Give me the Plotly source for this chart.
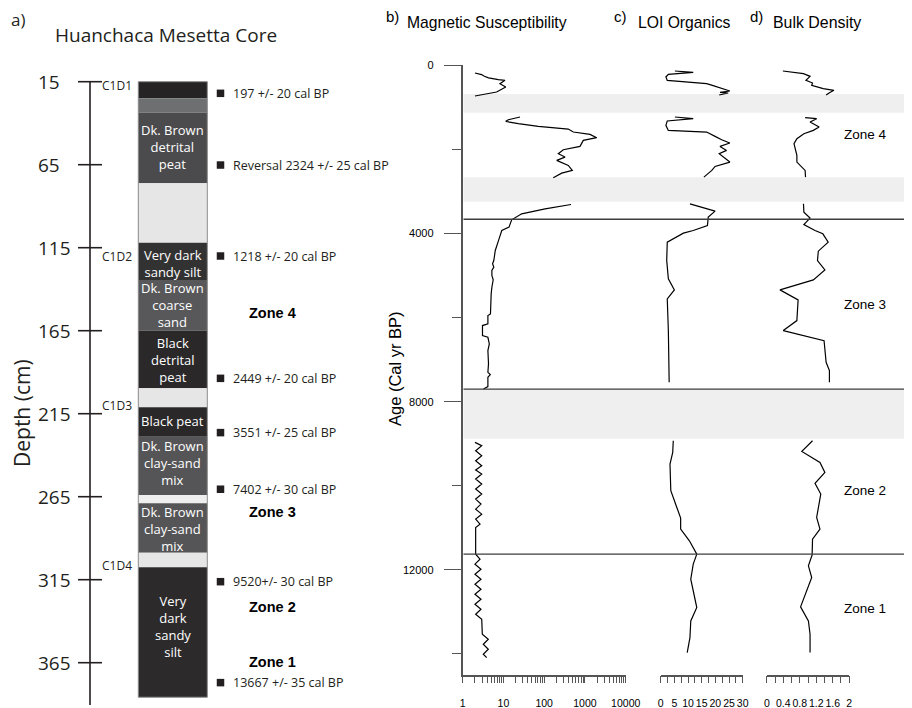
import plotly.graph_objects as go

W, H = 912, 708
OFF = 8  # the page body margin shifts the figure by 8 px; positions below are screen pixels

# ---------------- Panel a: core stratigraphy (depth, cm) ----------------
layer_top = [15, 25, 33.7, 76.2, 112, 134.5, 165, 199.7, 211.1, 228.9, 264, 269, 298.7, 307.5]
layer_bot = [25, 33.7, 76.2, 112, 134.5, 165, 199.7, 211.1, 228.9, 264, 269, 298.7, 307.5, 385.8]
layer_color = ["#262324", "#6e6f71", "#4b4b4d", "#e6e6e6", "#333233", "#58585a", "#2a2829",
               "#e6e6e6", "#2a2829", "#555557", "#eeeeee", "#555557", "#e6e6e6", "#2c2a2b"]
layer_label = ["Dk. Brown<br>detrital<br>peat", "Very dark<br>sandy silt", "Dk. Brown<br>coarse<br>sand",
               "Black<br>detrital<br>peat", "Black peat", "Dk. Brown<br>clay-sand<br>mix",
               "Dk. Brown<br>clay-sand<br>mix", "Very<br>dark<br>sandy<br>silt"]
layer_label_depth = [54.3, 124.6, 149.5, 182.7, 219.2, 244.9, 284.6, 343.1]

depth_ticks = [15, 65, 115, 165, 215, 265, 315, 365]
section_names = ["C1D1", "C1D2", "C1D3", "C1D4"]
section_depth = [17, 120.4, 209.8, 306.2]

date_depth = [22, 65.2, 120, 193.7, 226.4, 260.5, 316.2, 377]
date_text = ["197 +/- 20 cal BP", "Reversal 2324 +/- 25 cal BP", "1218 +/- 20 cal BP",
             "2449 +/- 20 cal BP", "3551 +/- 25 cal BP", "7402 +/- 30 cal BP",
             "9520+/- 30 cal BP", "13667 +/- 35 cal BP"]

core_zone_names = ["Zone 4", "Zone 3", "Zone 2", "Zone 1"]
core_zone_depth = [154.5, 274.4, 331.3, 364.4]

# ---------------- Panels b-d: proxies vs age (cal yr BP) ----------------
N = None
mag_age = [183, 220, 262, 300, 341, 357, 437, 516, 635, 675, 730, N,
           1230, 1294, 1333, 1389, 1452, 1516, 1587, 1611, 1643, 1722, 1786, 1929, 2008, 2103, 2183,
           2262, 2381, 2500, 2564, 2674, N,
           3310, 3413, 3532, 3675, 3849, 3929, 4127, 4246, 4405, 4643, 4722, 4800, 4881, 5000, 5100,
           5278, 5437, 5913, 5952, 6151, 6190, 6429, 6468, 6627, 6786, 7100, 7302, 7357, 7421, 7643, 7698, N,
           8968, 9048, 9167, 9286, 9405, 9524, 9627, 9722, 9841, 9960, 10079, 10198, 10317, 10437,
           10556, 10675, 10794, 10913, 10992, 11627, 11746, 11865, 11984, 12103, 12222, 12341, 12460,
           12579, 12698, 12817, 12936, 13056, 13175, 13532, 13651, 13770, 13889, 14008, 14087]
mag_val = [2.0, 2.9, 3.4, 4.3, 7.5, 10.9, 8.2, 11.4, 6.8, 4.25, 2.0, N,
           25.5, 13.2, 11.4, 23.1, 71.7, 390, 518, 832, 1330, 1940, 911, 756, 294, 222, 324,
           203, 390, 489, 269, 167, N,
           455, 105, 28, 15.9, 13.7, 9.1, 7.8, 7.0, 6.3, 5.8, 5.4, 5.8, 5.2, 5.2, 5.6,
           5.2, 5.0, 4.8, 4.15, 4.15, 3.06, 3.06, 4.15, 4.5, 4.15, 4.3, 4.15, 4.76, 4.15, 4.15, 3.24, N,
           2.0, 2.93, 2.08, 2.93, 2.08, 2.93, 2.08, 2.93, 2.08, 2.93, 2.08, 2.93, 2.08, 2.81,
           2.08, 2.93, 2.08, 2.66, 2.08, 2.08, 2.66, 2.0, 2.81, 2.0, 2.81, 2.0, 2.81,
           2.0, 2.81, 2.0, 2.81, 2.08, 2.93, 3.03, 4.25, 3.2, 4.25, 3.2, 3.88]

loi_age = [135, 167, 214, 278, 357, 389, 437, 484, 532, 579, 611, 643, 659, 706, N,
           1230, 1270, 1325, 1429, 1548, 1564, 1587, 1690, 1770, 1849, 1929, 2024, 2103, 2302, 2405, 2500, 2659, N,
           3294, 3468, 3611, 3810, 3929, 3992, 4206, 4643, 5079, 5341, 5556, 6310, 7540, N,
           8929, 9206, 9484, 10119, 10516, 10770, 11032, 11310, 11627, 11865, 12222, 12897, 13214, 13611, 13968]
loi_val = [5.2, 11.9, 2.8, 1.9, 2.4, 8.3, 16.8, 19.2, 21.7, 23.5, 25.3, 21.7, 24.7, 21.4, N,
           5.2, 11.9, 2.4, 1.9, 2.8, 9.5, 16.8, 19.9, 22.3, 25.3, 21.7, 24.1, 21.4, 25.3, 19.9, 18.7, 15.8, N,
           10.7, 19.9, 17.4, 17.1, 11.9, 8.3, 2.4, 2.2, 2.8, 5.0, 2.4, 2.8, 3.1, N,
           4.6, 4.4, 3.4, 3.7, 5.9, 7.3, 7.3, 10.5, 13.2, 11.9, 11.0, 13.2, 11.0, 10.7, 9.7]

bd_age = [135, 198, 262, 357, 421, 476, 555, 595, 651, 706, N,
          1246, 1270, 1349, 1468, 1548, 1627, 1746, 1865, 2143, 2302, 2500, 2659, N,
          3294, 3492, 3635, 3786, 3929, 4008, 4206, 4421, 4643, 4865, 5103, 5341, 5579, 6071, 6310,
          6548, 7064, 7262, 7540, N,
          8929, 9183, 9444, 9683, 9944, 10198, 10754, 11032, 11270, 11643, 11905, 12183, 12881, 13214, 13532, 13968]
bd_val = [0.39, 0.89, 1.05, 0.95, 1.11, 1.09, 1.37, 1.63, 1.52, 1.44, N,
          0.93, 1.21, 1.05, 1.27, 1.13, 0.90, 0.73, 0.66, 0.73, 0.73, 0.93, 0.94, N,
          0.89, 0.90, 1.05, 0.90, 1.17, 1.36, 1.49, 1.25, 1.23, 1.41, 1.13, 0.32, 0.76, 0.73, 0.40,
          1.39, 1.44, 1.52, 1.52, N,
          1.11, 0.85, 1.29, 1.41, 1.17, 1.31, 1.21, 1.29, 1.11, 1.10, 1.01, 1.09, 0.82, 1.01, 1.05, 1.05]

zone_boundaries = [3661, 7703, 11626]
data_gaps = [(682, 1127), (2663, 3243), (7703, 8885)]
zone_names = ["Zone 4", "Zone 3", "Zone 2", "Zone 1"]
zone_label_age = [1657, 5699, 10121, 12927]

age_ticks = [0, 4000, 8000, 12000]
age_minor = [2000, 6000, 10000, 14000]
mag_ticks = [m * 10 ** k for k in range(4) for m in range(1, 10)] + [10000]
mag_ticktext = [str(v) if v in (1, 10, 100, 1000, 10000) else "" for v in mag_ticks]
loi_ticks = [0, 2.5, 5, 7.5, 10, 12.5, 15, 17.5, 20, 22.5, 25, 27.5, 30]
loi_ticktext = ["0", "", "5", "", "10", "", "15", "", "20", "", "25", "", "30"]
bd_ticks = [0, 0.2, 0.4, 0.6, 0.8, 1.0, 1.2, 1.4, 1.6, 1.8, 2.0]
bd_ticktext = ["0", "", "0.4", "", "0.8", "", "1.2", "", "1.6", "", "2"]

# ---------------- layout helpers (screen pixels -> paper) ----------------
def px(x):
    return (x - OFF) / W

def py(y):
    return 1 - (y - OFF) / H

# depth axis: depth 15 cm at screen y 81.7, 1.66 px per cm
D_Y15, D_SCALE = 81.7, 1.66
depth_range = [15 + (H + OFF - D_Y15) / D_SCALE, 15 + (OFF - D_Y15) / D_SCALE]

LEFT_FONT = "Open Sans, Noto Sans, sans-serif"
ARIAL = "Liberation Sans, Arial, sans-serif"
INK = "#231f20"

def note(x, y, text, font, xref="paper", yref="paper", **kw):
    d = dict(xref=xref, yref=yref, x=x, y=y, text=text, showarrow=False,
             xanchor=kw.pop("xanchor", "center"), yanchor=kw.pop("yanchor", "middle"),
             font=font, borderpad=0, borderwidth=0)
    d.update(kw)
    return d

fig = go.Figure()

# core column as bars on the depth axis
core_cx, core_w = px(172.8), 69 / W
fig.add_trace(go.Bar(
    x=[core_cx] * len(layer_top), base=layer_top,
    y=[b - t for t, b in zip(layer_top, layer_bot)],
    width=core_w, marker=dict(color=layer_color, line=dict(width=0)),
    xaxis="x", yaxis="y", hoverinfo="skip"))

# radiocarbon date markers
fig.add_trace(go.Scatter(
    x=[px(220.5)] * len(date_depth), y=date_depth, mode="markers",
    marker=dict(symbol="square", size=7.5, color=INK), xaxis="x", yaxis="y", hoverinfo="skip"))

# proxy curves
line_style = dict(color="black", width=1.2)
fig.add_trace(go.Scatter(x=mag_val, y=mag_age, mode="lines", line=line_style,
                         xaxis="x2", yaxis="y2", connectgaps=False, hoverinfo="skip"))
fig.add_trace(go.Scatter(x=loi_val, y=loi_age, mode="lines", line=line_style,
                         xaxis="x3", yaxis="y2", connectgaps=False, hoverinfo="skip"))
fig.add_trace(go.Scatter(x=bd_val, y=bd_age, mode="lines", line=line_style,
                         xaxis="x4", yaxis="y2", connectgaps=False, hoverinfo="skip"))

shapes = []
annotations = []

# core outline
shapes.append(dict(type="rect", xref="paper", yref="y", x0=px(138.3), x1=px(207.3),
                   y0=layer_top[0], y1=layer_bot[-1], line=dict(color="#8a8a8a", width=1)))
# depth axis
shapes.append(dict(type="line", xref="paper", yref="y", x0=px(90), x1=px(90),
                   y0=depth_ticks[0], y1=390.5, line=dict(color=INK, width=1.6)))
for d in depth_ticks:
    shapes.append(dict(type="line", xref="paper", yref="y", x0=px(78), x1=px(102),
                       y0=d, y1=d, line=dict(color=INK, width=1.6)))
    annotations.append(note(px(38), d, str(d), dict(family=LEFT_FONT, size=19, color=INK),
                            yref="y", xanchor="left"))

for name, d in zip(section_names, section_depth):
    annotations.append(note(px(102), d, name, dict(family=LEFT_FONT, size=12, color=INK),
                            yref="y", xanchor="left"))

for lab, d in zip(layer_label, layer_label_depth):
    annotations.append(note(core_cx, d, lab, dict(family=LEFT_FONT, size=13, color="white"), yref="y"))

for txt, d in zip(date_text, date_depth):
    annotations.append(note(px(233), d, txt, dict(family=LEFT_FONT, size=12.5, color=INK),
                            yref="y", xanchor="left"))

for name, d in zip(core_zone_names, core_zone_depth):
    annotations.append(note(px(272), d, "<b>%s</b>" % name, dict(family=ARIAL, size=14.5, color="black"),
                            yref="y"))

annotations += [
    note(px(18), py(20), "a)", dict(family=LEFT_FONT, size=17, color=INK)),
    note(px(166), py(35), "Huanchaca Mesetta Core", dict(family=LEFT_FONT, size=19, color=INK)),
    note(px(22), py(413), "Depth (cm)", dict(family=LEFT_FONT, size=21, color=INK), textangle=-90),
]

# right panel: gap bands and zone boundaries
for a0, a1 in data_gaps:
    shapes.append(dict(type="rect", xref="paper", yref="y2", x0=px(463.5), x1=px(912), y0=a0, y1=a1,
                       fillcolor="#efefef", line=dict(width=0), layer="below"))
for a in zone_boundaries:
    shapes.append(dict(type="line", xref="paper", yref="y2", x0=px(463.5), x1=px(912), y0=a, y1=a,
                       line=dict(color="#3c3c3c", width=1.3)))
for name, a in zip(zone_names, zone_label_age):
    annotations.append(note(px(865), a, name, dict(family=ARIAL, size=13.5, color="black"), yref="y2"))

annotations += [
    note(px(392), py(17), "b)", dict(family=ARIAL, size=15, color="black")),
    note(px(487), py(23), "Magnetic Susceptibility", dict(family=ARIAL, size=15.7, color="black")),
    note(px(620), py(16), "c)", dict(family=ARIAL, size=15, color="black")),
    note(px(684.5), py(23), "LOI Organics", dict(family=ARIAL, size=15.7, color="black")),
    note(px(756), py(16), "d)", dict(family=ARIAL, size=15, color="black")),
    note(px(816.5), py(23), "Bulk Density", dict(family=ARIAL, size=15.9, color="black")),
    note(px(395), py(369), "Age (Cal yr BP)", dict(family=ARIAL, size=16.5, color="black"), textangle=-90),
]

AX = "#555555"
tickfont = dict(family=ARIAL, size=10.5, color="black")
bottom_common = dict(anchor="y2", showline=True, linecolor=AX, linewidth=1.5, ticks="outside",
                     ticklen=7, tickcolor=AX, tickwidth=1, showgrid=False, zeroline=False,
                     tickfont=tickfont, tickangle=0, ticklabelstandoff=11, fixedrange=True,
                     automargin=False)
y_dom = [py(674.7), py(65.3)]

fig.update_layout(
    width=W, height=H, margin=dict(l=0, r=0, t=0, b=0, pad=0, autoexpand=False),
    paper_bgcolor="white", plot_bgcolor="rgba(0,0,0,0)", showlegend=False, barmode="overlay",
    xaxis=dict(domain=[0, 1], range=[0, 1], visible=False, fixedrange=True),
    yaxis=dict(domain=[0, 1], range=depth_range, visible=False, fixedrange=True),
    xaxis2=dict(domain=[px(462.7), px(625.7)], type="log", range=[0, 4],
                tickmode="array", tickvals=mag_ticks, ticktext=mag_ticktext, **bottom_common),
    xaxis3=dict(domain=[px(660.7), px(742.7)], range=[0, 30],
                tickmode="array", tickvals=loi_ticks, ticktext=loi_ticktext, **bottom_common),
    xaxis4=dict(domain=[px(766.8), px(849.2)], range=[0, 2],
                tickmode="array", tickvals=bd_ticks, ticktext=bd_ticktext, **bottom_common),
    yaxis2=dict(domain=y_dom, range=[14494, 0], anchor="x2", showline=True, linecolor=AX, linewidth=1.8,
                ticks="outside", ticklen=17, tickcolor=AX, tickwidth=1.2, tickmode="array",
                tickvals=age_ticks, ticktext=[str(v) for v in age_ticks],
                minor=dict(tickmode="array", tickvals=age_minor, ticks="outside", ticklen=9,
                           tickcolor=AX, tickwidth=1.2),
                showgrid=False, zeroline=False, tickfont=dict(family=ARIAL, size=11, color="black"),
                ticklabelstandoff=8, fixedrange=True, automargin=False),
    shapes=shapes, annotations=annotations,
)

fig.write_html("out.html")
